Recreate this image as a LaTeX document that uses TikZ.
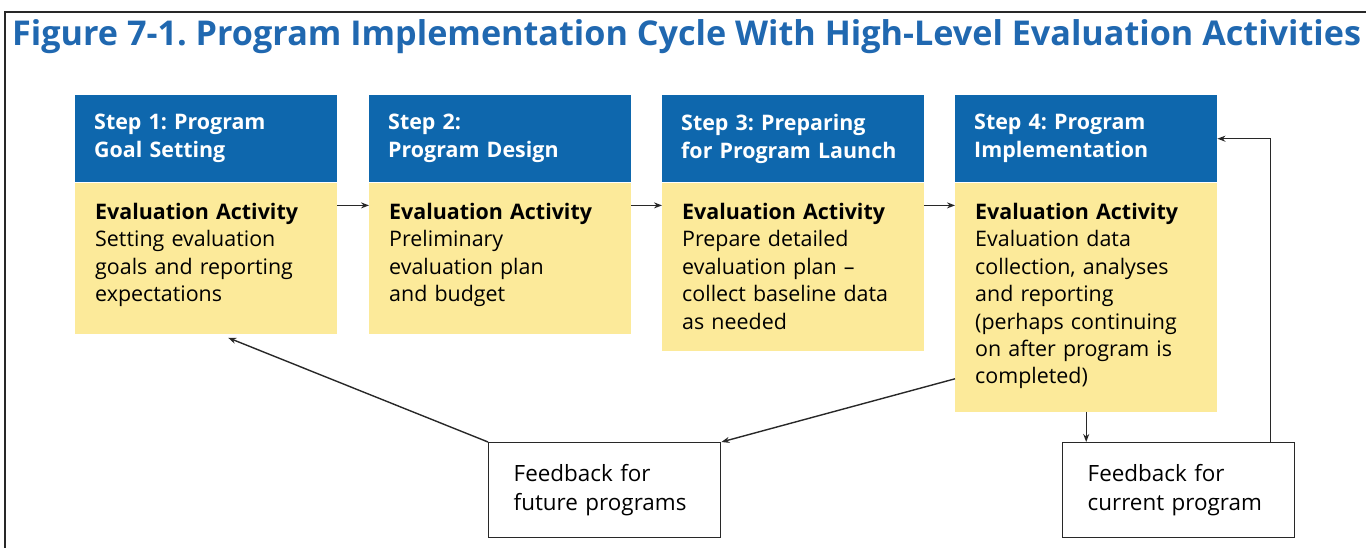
\documentclass[tikz,border=0pt]{standalone}
\usepackage{fontspec}
\setmainfont{Open Sans}
\usetikzlibrary{arrows.meta}

\definecolor{stepblue}{RGB}{14,103,173}
\definecolor{stepyellow}{RGB}{252,234,154}
\definecolor{titleblue}{RGB}{32,104,176}
\definecolor{linegray}{RGB}{40,40,40}

\frenchspacing
\begin{document}
\begin{tikzpicture}[x=1bp, y=-1bp,
    stephead/.style = {anchor=north west, fill=stepblue, text=white, align=left,
      font=\bfseries\fontsize{21.5}{28}\selectfont, text width=224bp, inner xsep=19bp,
      inner ysep=0pt, minimum height=87bp},
    stepbody/.style = {anchor=north west, fill=stepyellow, text=black, align=left,
      font=\fontsize{21.5}{27.5}\selectfont, text width=222bp, inner xsep=20bp,
      inner ysep=0pt, text height=37bp, text depth=#1},
    fbbox/.style = {anchor=north west, draw=linegray, line width=1.4bp, align=left,
      font=\fontsize{22.5}{29}\selectfont, text width=182bp, inner xsep=25bp,
      minimum height=95bp},
    arr/.style = {draw=linegray, line width=1.4bp, -{Stealth[length=8bp, width=6bp]}}]
  \useasboundingbox (0,0) rectangle (1366,548);
  \draw[line width=2bp, linegray] (5,548) -- (5,12) -- (1366,12);
  \node[anchor=base west, text=titleblue, font=\bfseries\fontsize{34.3}{40}\selectfont, inner sep=0pt]
    (title) at (12,46) {Figure 7-1. Program Implementation Cycle With High-Level Evaluation Activities};

  % the four steps
  \node[stephead] (h1) at (75,95) {Step 1: Program\\Goal Setting};
  \node[stepbody=114bp] (b1) at (h1.south west)
    {\textbf{Evaluation Activity}\\Setting evaluation\\goals and reporting\\expectations};
  \node[stephead] (h2) at (369,95) {Step 2:\\Program Design};
  \node[stepbody=114bp] (b2) at (h2.south west)
    {\textbf{Evaluation Activity}\\Preliminary\\evaluation plan\\and budget};
  \node[stephead] (h3) at (662,95) {Step 3: Preparing\\for Program Launch};
  \node[stepbody=131bp] (b3) at (h3.south west)
    {\textbf{Evaluation Activity}\\Prepare detailed\\evaluation plan --\\collect baseline data\\as needed};
  \node[stephead] (h4) at (955,95) {Step 4: Program\\Implementation};
  \node[stepbody=192bp] (b4) at (h4.south west)
    {\textbf{Evaluation Activity}\\Evaluation data\\collection, analyses\\and reporting\\(perhaps continuing\\on after program is\\completed)};

  % feedback boxes
  \node[fbbox] (fb1) at (488,442) {Feedback for\\future programs};
  \node[fbbox] (fb2) at (1062,442) {Feedback for\\current program};

  % connectors
  \draw[arr] ([yshift=-23bp]b1.north east) -- ([yshift=-23bp]b2.north west);
  \draw[arr] ([yshift=-23bp]b2.north east) -- ([yshift=-23bp]b3.north west);
  \draw[arr] ([yshift=-23bp]b3.north east) -- ([yshift=-23bp]b4.north west);
  \draw[arr] (fb1.north west) -- ([xshift=22bp,yshift=-4bp]b1.south);
  \draw[arr] ([yshift=33bp]b4.south west) -- (fb1.north east);
  \draw[arr] (b4.south) -- (b4.south |- fb2.north);
  \draw[arr] ([xshift=-25bp]fb2.north east) |- (h4.east);
\end{tikzpicture}
\end{document}
